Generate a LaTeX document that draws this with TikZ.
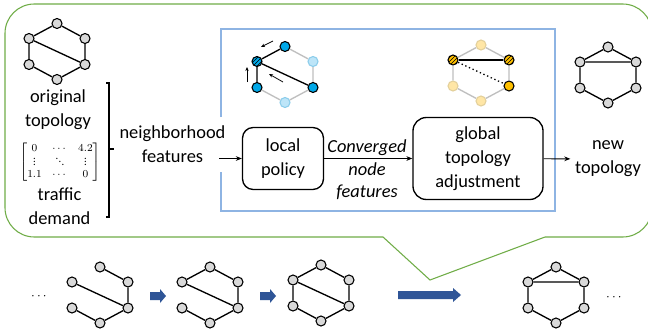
\documentclass[tikz,border=0pt]{standalone}
\usepackage{amsmath}
\usepackage{fontspec}
\setmainfont{Carlito}
\usetikzlibrary{arrows.meta,patterns}

\definecolor{callgreen}{HTML}{70AD47}
\definecolor{frameblue}{HTML}{8EB4E3}
\definecolor{fatblue}{HTML}{2F5597}
\definecolor{vgray}{HTML}{D9D9D9}
\definecolor{egray}{HTML}{BFBFBF}
\definecolor{bluedark}{HTML}{00A8E8}
\definecolor{bluelight}{HTML}{BDE5F8}
\definecolor{bluerim}{HTML}{8CCDEB}
\definecolor{orangedark}{HTML}{FFC000}
\definecolor{orangelight}{HTML}{FFE6A6}
\definecolor{orangerim}{HTML}{E3D09B}

\tikzset{
  vtx/.style={circle,draw,line width=0.8pt,fill=vgray,minimum size=7.5pt,inner sep=0pt},
  bvtx/.style={vtx,fill=bluedark},
  bvtxoff/.style={vtx,draw=bluerim,fill=bluelight},
  bvtxsel/.style={bvtx,postaction={pattern=north east lines}},
  ovtx/.style={vtx,fill=orangedark},
  ovtxoff/.style={vtx,draw=orangerim,fill=orangelight},
  ovtxsel/.style={ovtx,postaction={pattern=north east lines}},
  edge/.style={line width=1pt},
  faded/.style={line width=1pt,draw=egray},
  txt/.style={align=center,font=\fontsize{13.8}{18}\selectfont},
  box/.style={txt,draw,line width=1pt,rounded corners=8pt},
  flow/.style={-{Stealth[length=4.5pt,width=3.5pt]},line width=0.7pt},
  nudge/.style={-{Stealth[length=3pt,width=2.5pt]},line width=0.6pt}
}

% six vertices of a hexagon: name, centre x, centre y, then one style per vertex
% (top, upper left, upper right, lower left, lower right, bottom)
\newcommand\hexat[9]{%
  \node[#4] (#1-t)  at (#2,#3-28) {};
  \node[#5] (#1-ul) at (#2-28,#3-13) {};
  \node[#6] (#1-ur) at (#2+28,#3-13) {};
  \node[#7] (#1-ll) at (#2-28,#3+13) {};
  \node[#8] (#1-lr) at (#2+28,#3+13) {};
  \node[#9] (#1-b)  at (#2,#3+28) {};
}
\newcommand\plainhex[3]{\hexat{#1}{#2}{#3}{vtx}{vtx}{vtx}{vtx}{vtx}{vtx}}
% fat arrow: from x, to x, at y, head length
\newcommand\fatarrow[4]{%
  \fill[fatblue] (#1,#3-4) -- (#2-#4,#3-4) -- (#2-#4,#3-7) -- (#2,#3)
    -- (#2-#4,#3+7) -- (#2-#4,#3+4) -- (#1,#3+4) -- cycle;
}
% low dots for the small matrix
\newcommand\lowvdots{\vcenter{\baselineskip=2.4pt\lineskiplimit=0pt\hbox{.}\hbox{.}\hbox{.}}}
\newcommand\lowddots{\vcenter{\baselineskip=2.4pt\lineskiplimit=0pt\hbox{.}\hbox{\kern2.2pt.}\hbox{\kern4.4pt.}}}

\begin{document}
\begin{tikzpicture}[x=0.75pt,y=-0.75pt]
	\useasboundingbox[fill=white] (0,0) rectangle (648,335);

	% speech bubble
	\draw[callgreen,line width=0.8pt] (383,237) -- (430,280) -- (545,237);
	\draw[callgreen,line width=0.8pt,rounded corners=22pt] (545,237) -- (652,237) -- (652,4) -- (5,4) -- (5,237) -- (383,237);

	% inputs
	\plainhex{orig}{57}{51.5}
	\draw[edge] (orig-t) -- (orig-ur) -- (orig-lr) -- (orig-b) -- (orig-ll) -- (orig-ul) -- (orig-t);
	\draw[edge] (orig-ul) -- (orig-lr);
	\node[txt] (origtxt) at (58,110) {original\\topology};
	\node (tm) at (60,162) {\fontsize{8}{9.4}\selectfont
		$\left[\begin{array}{@{}c@{\quad}c@{\quad}c@{}}
		0 & \cdots & 4.2\\
		\lowvdots & \lowddots & \lowvdots\\
		1.1 & \cdots & 0
		\end{array}\right]$};
	\node[txt] (tdtxt) at (59.5,206) {traffic\\demand};
	\draw[line width=1pt] (106,83) -- (109,83) -- (109,217) -- (106,217);
	\draw[line width=1pt] (109,149) -- (114,149);
	\node[txt] (nf) at (172.5,144) {neighborhood\\features};

	% model
	\draw[frameblue,line width=1pt] (221,117) -- (221,29) -- (555,29) -- (555,211) -- (221,211) -- (221,172);
	\node[box,minimum width=60.75pt,minimum height=46.5pt] (local) at (283,158.5) {local\\policy};
	\node[box,minimum width=97.5pt,minimum height=61.5pt,rounded corners=10pt] (global) at (478,158.5) {global\\topology\\adjustment};
	\coordinate (nfout) at (219,158.5);
	\draw[flow] (nfout) -- (local);
	\draw[flow] (local) -- (global);
	\node[txt,font=\fontsize{13.8}{17}\selectfont\itshape] (conv) at (367,170) {Converged\\node\\features};
	\node[txt] (newtxt) at (608,159) {new\\topology};
	\draw[flow] (global) -- (newtxt);

	% local policy sketch
	\hexat{lp}{285}{74.5}{bvtx}{bvtxsel}{bvtxoff}{bvtx}{bvtx}{bvtxoff}
	\draw[faded] (lp-t) -- (lp-ur) -- (lp-lr) -- (lp-b) -- (lp-ll);
	\draw[edge] (lp-ll) -- (lp-ul) -- (lp-t);
	\draw[edge] (lp-ul) -- (lp-lr);
	\draw[nudge] (273,41) -- (261,47);
	\draw[nudge] (247,82) -- (247,67);
	\draw[nudge] (283,82) -- (269,74);

	% global adjustment sketch
	\hexat{ga}{481}{73}{ovtxoff}{ovtxsel}{ovtxsel}{ovtxoff}{ovtx}{ovtxoff}
	\draw[faded] (ga-ul) -- (ga-t) -- (ga-ur) -- (ga-lr) -- (ga-b) -- (ga-ll) -- (ga-ul);
	\draw[edge] (ga-ul) -- (ga-ur);
	\draw[edge,dotted] (ga-ul) -- (ga-lr);

	% result
	\plainhex{new}{608}{75}
	\draw[edge] (new-ul) -- (new-t) -- (new-ur) -- (new-lr) -- (new-b) -- (new-ll) -- (new-ul) -- (new-ur);

	% sequence along the bottom
	\node (dotsl) at (40,297) {$\cdots$};
	\plainhex{s1}{100}{295}
	\draw[edge] (s1-t) -- (s1-ur) -- (s1-lr) -- (s1-b) -- (s1-ll);
	\draw[edge] (s1-ul) -- (s1-lr);
	\fatarrow{150}{166}{296}{6}
	\plainhex{s2}{210}{295}
	\draw[edge] (s2-ul) -- (s2-t) -- (s2-ur) -- (s2-lr) -- (s2-b) -- (s2-ll);
	\draw[edge] (s2-ul) -- (s2-lr);
	\fatarrow{260}{276}{296}{6}
	\plainhex{s3}{321}{293}
	\draw[edge] (s3-t) -- (s3-ur) -- (s3-lr) -- (s3-b) -- (s3-ll) -- (s3-ul) -- (s3-t);
	\draw[edge] (s3-ul) -- (s3-lr);
	\fatarrow{398}{461}{295}{8}
	\plainhex{s4}{556}{295}
	\draw[edge] (s4-ul) -- (s4-t) -- (s4-ur) -- (s4-lr) -- (s4-b) -- (s4-ll) -- (s4-ul) -- (s4-ur);
	\node (dotsr) at (615,298) {$\cdots$};
\end{tikzpicture}
\end{document}
